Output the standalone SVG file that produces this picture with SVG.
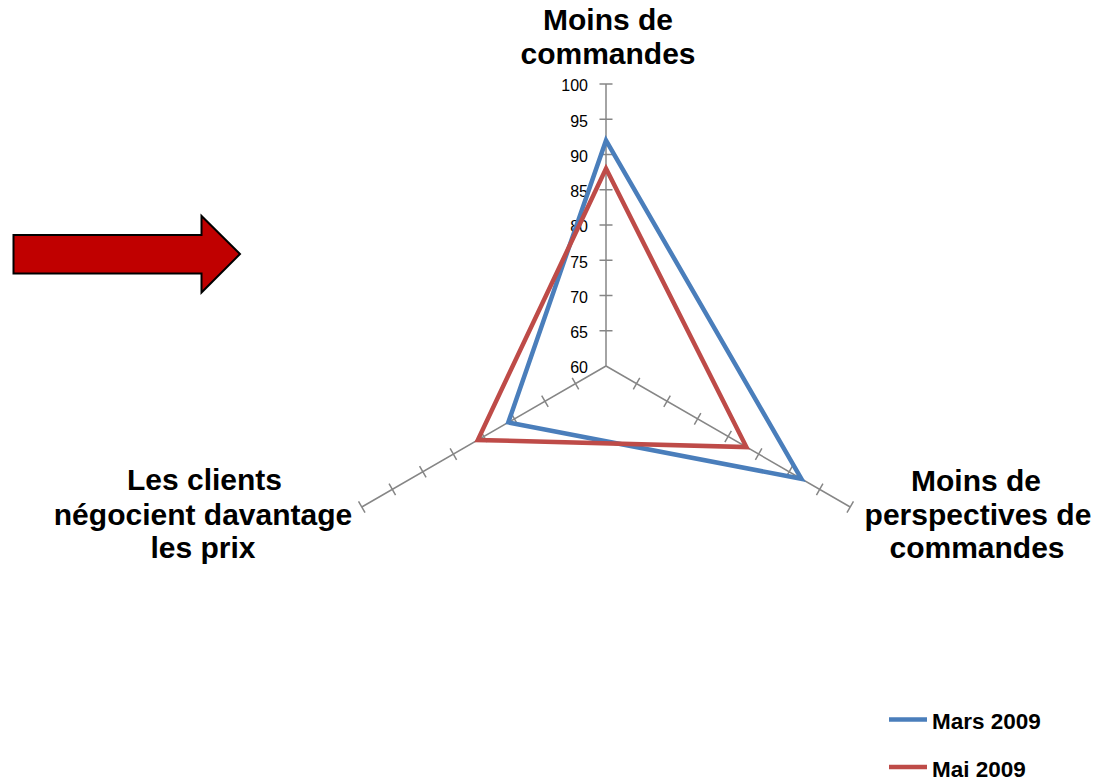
<svg xmlns="http://www.w3.org/2000/svg" xmlns:xlink="http://www.w3.org/1999/xlink" width="1109" height="781" viewBox="0 0 1109 781">
<style>
.lbl{font-family:"Liberation Sans",Arial,sans-serif;font-weight:bold;font-size:30px;fill:#000}
.num{font-family:"Liberation Sans",Arial,sans-serif;font-size:16px;fill:#000;text-anchor:end}
.leg{font-family:"Liberation Sans",Arial,sans-serif;font-weight:bold;font-size:22.5px;fill:#000}
.axis{stroke:#868686;stroke-width:1.5;fill:none}
.s1{stroke:#4A7EBB;stroke-width:4.5;fill:none;stroke-linejoin:miter}
.s2{stroke:#BE4B48;stroke-width:4.5;fill:none;stroke-linejoin:miter}
</style>
<defs>
<g id="ax">
<path class="axis" d="M606 366V84M599.5 330.75h13M599.5 295.5h13M599.5 260.25h13M599.5 225h13M599.5 189.75h13M599.5 154.5h13M599.5 119.25h13M599.5 84h13"/>
</g>
</defs>
<g id="arrow">
<polygon points="13.5,235 201.5,235 201.5,216 240,254 201.5,292.5 201.5,273.5 13.5,273.5" fill="#C00000" stroke="#000" stroke-width="2"/>
</g>
<g id="axes">
<use xlink:href="#ax"/>
<use xlink:href="#ax" transform="rotate(120 606 366)"/>
<use xlink:href="#ax" transform="rotate(240 606 366)"/>
</g>
<g id="scale">
<text class="num" x="588" y="91">100</text>
<text class="num" x="588" y="126.5">95</text>
<text class="num" x="588" y="161.5">90</text>
<text class="num" x="588" y="197">85</text>
<text class="num" x="588" y="232">80</text>
<text class="num" x="588" y="267.5">75</text>
<text class="num" x="588" y="302.5">70</text>
<text class="num" x="588" y="338">65</text>
<text class="num" x="588" y="373">60</text>
</g>
<g id="series">
<polygon class="s1" points="606,140.4 801.4,478.8 508.3,422.4"/>
<polygon class="s2" points="606,168.6 746.4,447.1 477.8,440"/>
</g>
<g id="label-top">
<text class="lbl" x="608" y="30" text-anchor="middle">Moins de</text>
<text class="lbl" x="608" y="64" text-anchor="middle">commandes</text>
</g>
<g id="label-left">
<text class="lbl" x="204.5" y="490" text-anchor="middle">Les clients</text>
<text class="lbl" x="203" y="525" text-anchor="middle">négocient davantage</text>
<text class="lbl" x="203" y="558" text-anchor="middle">les prix</text>
</g>
<g id="label-right">
<text class="lbl" x="976" y="491" text-anchor="middle">Moins de</text>
<text class="lbl" x="978" y="525" text-anchor="middle">perspectives de</text>
<text class="lbl" x="977" y="558" text-anchor="middle">commandes</text>
</g>
<g id="legend">
<line x1="889" y1="719.5" x2="927" y2="719.5" class="s1"/>
<text class="leg" x="932" y="729">Mars 2009</text>
<line x1="889" y1="767" x2="927" y2="767" class="s2"/>
<text class="leg" x="932" y="776.5">Mai 2009</text>
</g>
</svg>
